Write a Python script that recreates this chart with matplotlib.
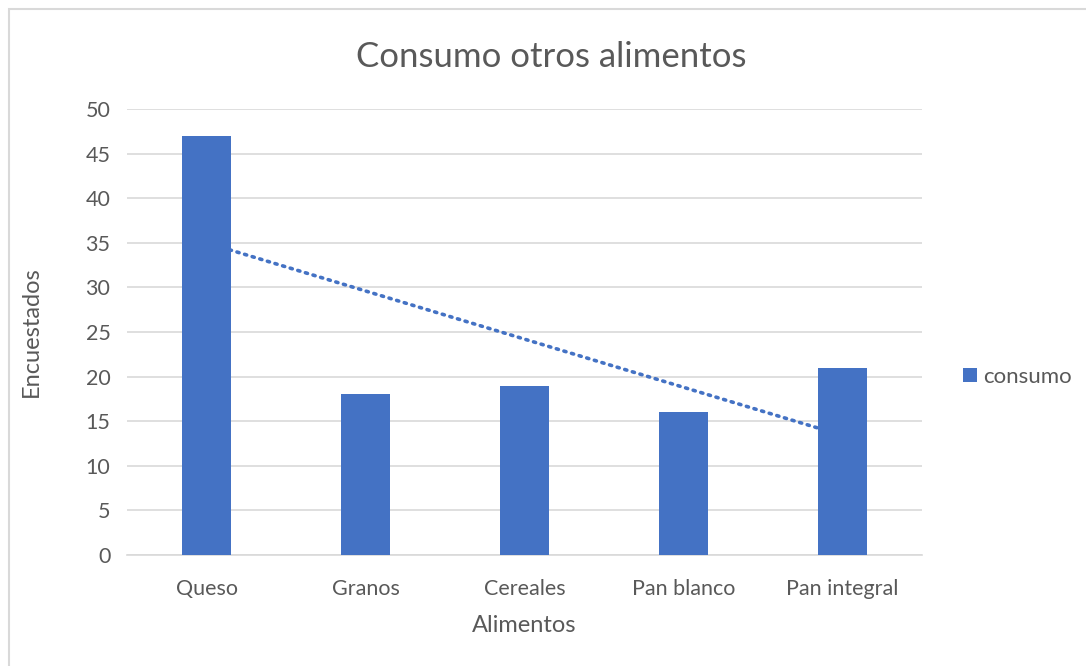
import numpy as np
import matplotlib
matplotlib.use('Agg')
import matplotlib.pyplot as plt
from matplotlib.patches import Rectangle

plt.rcParams['font.family'] = ['Lato', 'DejaVu Sans']

# Datos
alimentos = ['Queso', 'Granos', 'Cereales', 'Pan blanco', 'Pan integral']
consumo = [47, 18, 19, 16, 21]

azul = '#4472C4'
gris_texto = '#595959'
gris_linea = '#D9D9D9'

fig = plt.figure(figsize=(10.86, 6.66), dpi=100)
ax = fig.add_axes([0.117, 0.1667, 0.732, 0.6696])

x = np.arange(len(alimentos))
ax.bar(x, consumo, width=0.31, color=azul, label='consumo', zorder=3)

# Línea de tendencia lineal (queda detrás de las barras)
m, b = np.polyfit(x + 1, consumo, 1)
ax.plot(x, m * (x + 1) + b, linestyle=(0, (0.6, 1.6)), color=azul,
        linewidth=2.6, dash_capstyle='round', zorder=2)

ax.set_xlim(-0.5, len(alimentos) - 0.5)
ax.set_ylim(0, 50)
ax.set_yticks(range(0, 51, 5))
ax.set_xticks(x)
ax.set_xticklabels(alimentos)
ax.yaxis.grid(True, color=gris_linea, linewidth=1.2, zorder=0)
ax.set_axisbelow(True)
for s in ['top', 'right', 'left']:
    ax.spines[s].set_visible(False)
ax.spines['bottom'].set_color(gris_linea)
ax.spines['bottom'].set_linewidth(1.2)
ax.tick_params(length=0, labelsize=15.5, colors=gris_texto, pad=17)
ax.tick_params(axis='y', pad=12)

ax.set_xlabel('Alimentos', fontsize=17, color=gris_texto, labelpad=12)
ax.set_ylabel('Encuestados', fontsize=17, color=gris_texto, labelpad=31)
fig.text(0.508, 0.914, 'Consumo otros alimentos', ha='center', va='center',
         fontsize=25, color=gris_texto)

fig.legend(loc='center left', bbox_to_anchor=(0.885, 0.434), frameon=False,
           fontsize=16, labelcolor=gris_texto, handlelength=0.6,
           handleheight=0.6, handletextpad=0.3, borderaxespad=0,
           borderpad=0.1)

# Marco del gráfico
fig.patches.append(Rectangle((9 / 1086, -0.01), 1.02, 1 - 9 / 666 + 0.01,
                             transform=fig.transFigure, fill=False,
                             edgecolor='#D9D9D9', linewidth=1.5))

fig.savefig('out.png', dpi=100, facecolor='white')
